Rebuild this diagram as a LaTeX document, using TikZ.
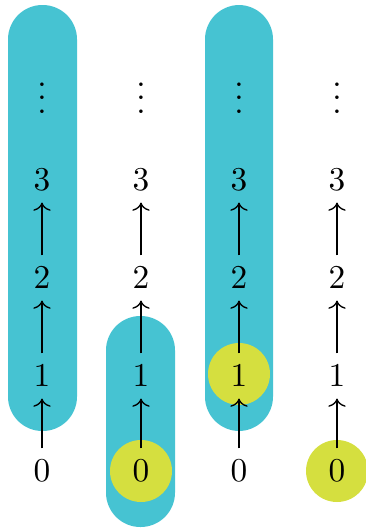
\documentclass[tikz,border=0pt]{standalone}
\usetikzlibrary{arrows.meta}
\definecolor{barcyan}{RGB}{70,195,210}
\definecolor{dotyellow}{RGB}{213,223,63}
\begin{document}
\begin{tikzpicture}[x=0.3pt,y=-0.3pt,
  bar/.style={fill=barcyan,draw=none,rounded corners=10.3pt},
  hl/.style={fill=dotyellow,draw=none},
  num/.style={inner sep=0.3333em},
  arr/.style={->,line width=0.4pt}]
\useasboundingbox (0,0) rectangle (366,528);
% bars
\fill[barcyan,rounded corners=10.3pt] (8,5) rectangle (77,431);
\fill[barcyan,rounded corners=10.3pt] (106,316) rectangle (175,527);
\fill[barcyan,rounded corners=10.3pt] (205,5) rectangle (273,431);
% highlights
\fill[dotyellow] (141,471) circle[radius=31];
\fill[dotyellow] (239,374) circle[radius=31];
\fill[dotyellow] (337,471) circle[radius=31];
% columns
\foreach \c/\x in {a/42,b/141,c/239,d/337}{
  \node[num] (\c0) at (\x,471) {$0$};
  \node[num] (\c1) at (\x,376) {$1$};
  \node[num] (\c2) at (\x,278) {$2$};
  \node[num] (\c3) at (\x,180) {$3$};
  \node[num] (\c4) at (\x,88) {$\vdots$};
  \draw[arr] (\c0) -- (\c1);
  \draw[arr] (\c1) -- (\c2);
  \draw[arr] (\c2) -- (\c3);
}
\end{tikzpicture}
\end{document}
